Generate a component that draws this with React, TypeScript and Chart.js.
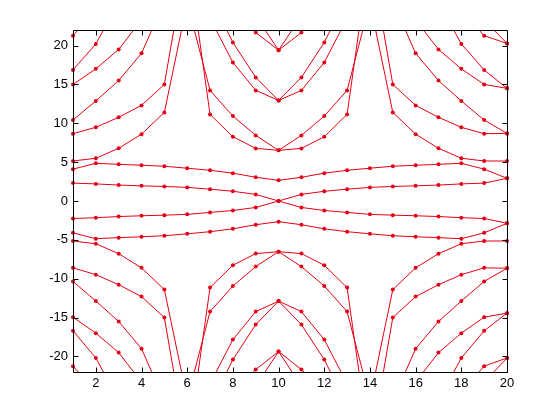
import React, { useEffect, useRef } from 'react';
import { Chart, registerables } from 'chart.js';

Chart.register(...registerables);

const xValues = [1, 2, 3, 4, 5, 6, 7, 8, 9, 10, 11, 12, 13, 14, 15, 16, 17, 18, 19, 20];
const xTicks = [2, 4, 6, 8, 10, 12, 14, 16, 18, 20];
const yTicks = [-20, -15, -10, -5, 0, 5, 10, 15, 20];

// upper half (values above 22 leave the axes and are clipped)
const upperA = [2.3, 2.2, 2.05, 1.95, 1.87, 1.75, 1.52, 1.25, 0.85, 0, 0.85, 1.25, 1.52, 1.75, 1.87, 1.95, 2.05, 2.2, 2.3, 2.92];
const upperB = [4.1, 4.85, 4.72, 4.6, 4.47, 4.22, 3.95, 3.58, 3.05, 2.66, 3.05, 3.58, 3.95, 4.22, 4.47, 4.6, 4.72, 4.85, 4.1, 2.92];
const upperC = [5.15, 5.5, 6.78, 8.6, 11.4, 25.5, 14.23, 10.93, 8.44, 6.52, 8.44, 10.93, 14.23, 25.5, 11.4, 8.6, 6.78, 5.5, 5.15, 5.14];
const upperD = [8.66, 9.48, 10.77, 12.3, 15.0, 32, 11.14, 8.27, 6.77, 6.52, 6.77, 8.27, 11.14, 32, 15.0, 12.3, 10.77, 9.48, 8.66, 8.7];
const upperE = [10.42, 12.87, 15.5, 19.0, 25.7, 40, 26.3, 20.4, 15.9, 12.94, 15.9, 20.4, 26.3, 40, 25.7, 19.0, 15.5, 12.87, 10.42, 8.7];
const upperF = [15.0, 17.0, 19.5, 23.3, 35, 40, 23.5, 17.83, 14.23, 12.94, 14.23, 17.83, 23.5, 40, 35, 23.3, 19.5, 17.0, 15.0, 14.49];
const upperG = [16.86, 20.2, 25.6, 35, 40, 40, 35, 24.5, 21.68, 19.4, 21.68, 24.5, 35, 40, 40, 35, 25.6, 20.2, 16.86, 14.49];
const upperH = [21.27, 24.5, 35, 40, 40, 40, 40, 35, 23.8, 19.4, 23.8, 35, 40, 40, 40, 40, 35, 24.5, 21.27, 20.27];
const upperI = [null, null, null, null, null, null, null, null, null, null, null, null, null, null, null, null, null, null, 23.3, 20.27];

// lower half
const lowerA = [-2.25, -2.15, -2.0, -1.9, -1.82, -1.72, -1.47, -1.22, -0.83, 0, -0.83, -1.22, -1.47, -1.72, -1.82, -1.9, -2.0, -2.15, -2.25, -2.87];
const lowerB = [-4.1, -4.85, -4.72, -4.6, -4.47, -4.22, -3.95, -3.58, -3.05, -2.66, -3.05, -3.58, -3.95, -4.22, -4.47, -4.6, -4.72, -4.85, -4.1, -2.87];
const lowerC = [-5.15, -5.5, -6.78, -8.6, -11.4, -25.5, -14.23, -10.93, -8.44, -6.52, -8.44, -10.93, -14.23, -25.5, -11.4, -8.6, -6.78, -5.5, -5.15, -5.14];
const lowerD = [-8.6, -9.48, -10.77, -12.3, -15.0, -32, -11.14, -8.27, -6.77, -6.52, -6.77, -8.27, -11.14, -32, -15.0, -12.3, -10.77, -9.48, -8.6, -8.65];
const lowerE = [-10.35, -12.87, -15.5, -19.0, -25.7, -40, -26.3, -20.4, -15.9, -12.88, -15.9, -20.4, -26.3, -40, -25.7, -19.0, -15.5, -12.87, -10.35, -8.65];
const lowerF = [-14.95, -17.0, -19.5, -23.3, -35, -40, -23.5, -17.83, -14.23, -12.88, -14.23, -17.83, -23.5, -40, -35, -23.3, -19.5, -17.0, -14.95, -14.43];
const lowerG = [-16.7, -20.2, -25.6, -35, -40, -40, -35, -24.5, -21.68, -19.37, -21.68, -24.5, -35, -40, -40, -35, -25.6, -20.2, -16.7, -14.43];
const lowerH = [-21.25, -24.5, -35, -40, -40, -40, -40, -35, -23.8, -19.37, -23.8, -35, -40, -40, -40, -40, -35, -24.5, -21.25, -20.2];
const lowerI = [null, null, null, null, null, null, null, null, null, null, null, null, null, null, null, null, null, null, -23.3, -20.2];

const allSeries = [
  upperA, upperB, upperC, upperD, upperE, upperF, upperG, upperH, upperI,
  lowerA, lowerB, lowerC, lowerD, lowerE, lowerF, lowerG, lowerH, lowerI,
];

const RED = 'rgb(228,0,20)';
const FONT = '"Liberation Sans", Arial, Helvetica, sans-serif';

const boxPlugin = {
  id: 'matlabBox',
  afterDatasetsDraw(chart: any) {
    const { ctx, chartArea, scales } = chart;
    const { left, right, top, bottom } = chartArea;
    const xs = scales.x;
    const ys = scales.y;
    ctx.save();
    ctx.strokeStyle = '#000';
    ctx.lineWidth = 1;
    const L = Math.round(left) + 0.5;
    const R = Math.round(right) + 0.5;
    const T = Math.round(top) + 0.5;
    const B = Math.round(bottom) + 0.5;
    ctx.beginPath();
    ctx.rect(L, T, R - L, B - T);
    const tl = 5;
    for (const v of xTicks) {
      const px = Math.round(xs.getPixelForValue(v)) + 0.5;
      ctx.moveTo(px, B);
      ctx.lineTo(px, B - tl);
      ctx.moveTo(px, T);
      ctx.lineTo(px, T + tl);
    }
    for (const v of yTicks) {
      const py = Math.round(ys.getPixelForValue(v)) + 0.5;
      ctx.moveTo(L, py);
      ctx.lineTo(L + tl, py);
      ctx.moveTo(R, py);
      ctx.lineTo(R - tl, py);
    }
    ctx.stroke();
    ctx.restore();
  },
};

export default function App() {
  const canvasRef = useRef<HTMLCanvasElement | null>(null);

  useEffect(() => {
    const canvas = canvasRef.current;
    if (!canvas) return;
    const datasets = allSeries.map((s, k) => ({
      label: 'series ' + (k + 1),
      data: xValues.map((x, i) => ({ x, y: s[i] })),
      borderColor: RED,
      backgroundColor: RED,
      borderWidth: 1,
      pointRadius: 2,
      pointHoverRadius: 2,
      pointBorderWidth: 0,
      pointBackgroundColor: RED,
      tension: 0,
      fill: false,
      spanGaps: false,
      clip: { left: 5, right: 5, top: 0, bottom: 0 },
    }));
    const chart = new Chart(canvas, {
      type: 'line',
      data: { datasets },
      options: {
        animation: false,
        responsive: false,
        maintainAspectRatio: false,
        events: [],
        layout: { padding: { left: 0, top: 30, right: 53, bottom: 0 } },
        plugins: {
          legend: { display: false },
          tooltip: { enabled: false },
          title: { display: false },
        },
        scales: {
          x: {
            type: 'linear',
            min: 1,
            max: 20,
            grid: { display: false, drawTicks: false },
            border: { display: false },
            afterBuildTicks: (scale: any) => {
              scale.ticks = xTicks.map((v) => ({ value: v }));
            },
            afterFit: (scale: any) => {
              scale.height = 48;
            },
            ticks: {
              color: '#000',
              padding: 4,
              maxRotation: 0,
              autoSkip: false,
              font: { family: FONT, size: 13 },
            },
          },
          y: {
            type: 'linear',
            min: -22,
            max: 22,
            grid: { display: false, drawTicks: false },
            border: { display: false },
            afterBuildTicks: (scale: any) => {
              scale.ticks = yTicks.map((v) => ({ value: v }));
            },
            afterFit: (scale: any) => {
              scale.width = 73;
            },
            ticks: {
              color: '#000',
              padding: 5,
              autoSkip: false,
              font: { family: FONT, size: 13 },
            },
          },
        },
      },
      plugins: [boxPlugin],
    });
    return () => chart.destroy();
  }, []);

  return (
    <div style={{ position: 'fixed', left: 0, top: 0, width: 560, height: 420, background: '#fff' }}>
      <canvas ref={canvasRef} width={560} height={420} style={{ width: 560, height: 420 }} />
    </div>
  );
}
